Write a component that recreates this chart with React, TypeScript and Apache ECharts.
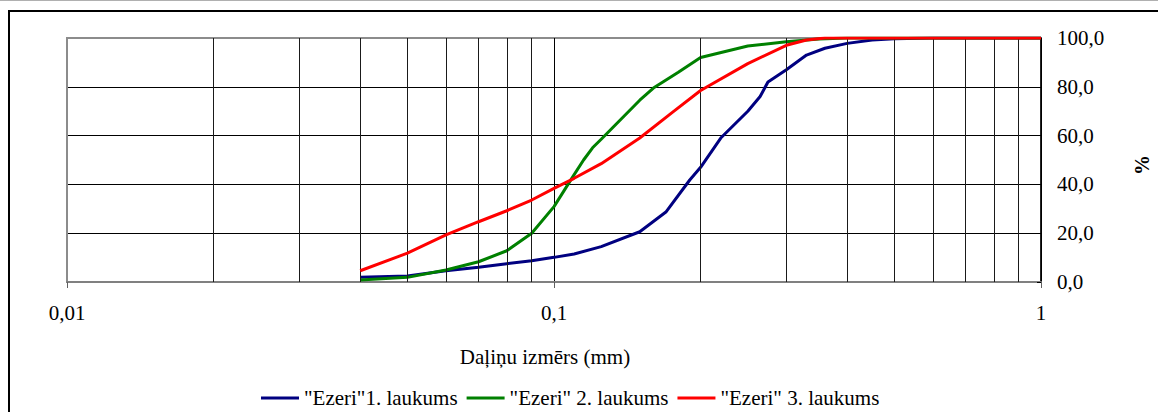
import React, { useEffect, useRef } from "react";
import * as echarts from "echarts";

// Particle size (mm) and cumulative % for each field
const x1 = [0.04, 0.05, 0.06, 0.07, 0.08, 0.09, 0.1, 0.11, 0.125, 0.15, 0.17, 0.19, 0.2, 0.22, 0.25, 0.265, 0.275, 0.3, 0.33, 0.36, 0.4, 0.45, 0.5, 0.6, 0.8, 1];
const y1 = [1.9, 2.5, 4.6, 6.0, 7.5, 8.7, 10.1, 11.5, 14.5, 20.6, 28.8, 41.8, 47.0, 59.0, 70.0, 76.0, 82.0, 87.0, 93.0, 95.8, 97.8, 99.2, 99.7, 100, 100, 100];

const x2 = [0.04, 0.05, 0.06, 0.07, 0.08, 0.09, 0.1, 0.11, 0.115, 0.12, 0.125, 0.15, 0.16, 0.18, 0.2, 0.25, 0.3, 0.35, 0.4, 0.5, 1];
const y2 = [0.8, 1.9, 4.9, 8.3, 12.8, 20.0, 30.9, 44.0, 50.0, 55.0, 58.5, 74.5, 79.5, 86.0, 92.0, 96.7, 98.5, 99.6, 100, 100, 100];

const x3 = [0.04, 0.05, 0.06, 0.07, 0.08, 0.09, 0.1, 0.11, 0.125, 0.15, 0.175, 0.2, 0.25, 0.3, 0.33, 0.36, 0.4, 0.5, 1];
const y3 = [4.6, 11.8, 19.3, 24.7, 29.2, 33.6, 38.4, 42.5, 48.5, 59.0, 69.5, 78.5, 89.5, 97.0, 99.2, 100, 100, 100, 100];

const seriesNames = ['"Ezeri"1. laukums', '"Ezeri" 2. laukums', '"Ezeri" 3. laukums'];
const seriesColors = ["#000080", "#008000", "#FF0000"];

const xTickLabels = ["0,01", "0,1", "1"];
const minorGridX = [0.02, 0.03, 0.04, 0.05, 0.06, 0.07, 0.08, 0.09, 0.2, 0.3, 0.4, 0.5, 0.6, 0.7, 0.8, 0.9];

const xName = "Daļiņu izmērs (mm)";
const yName = "%";

const FONT = "Liberation Serif";

function pairs(xs: number[], ys: number[]) {
  return xs.map((x, i) => [x, ys[i]]);
}

export default function App() {
  const ref = useRef<HTMLDivElement>(null);

  useEffect(() => {
    if (!ref.current) return;
    const chart = echarts.init(ref.current, undefined, { renderer: "svg" });
    const lineData = [pairs(x1, y1), pairs(x2, y2), pairs(x3, y3)];

    chart.setOption({
      animation: false,
      backgroundColor: "#fff",
      textStyle: { fontFamily: FONT, color: "#000" },
      graphic: [
        {
          type: "line",
          shape: { x1: 0, y1: 0.5, x2: 1158, y2: 0.5 },
          style: { stroke: "#b0b0b0", lineWidth: 1 },
          silent: true,
        },
        {
          type: "rect",
          shape: { x: 9, y: 11, width: 1300, height: 600 },
          style: { fill: "none", stroke: "#000", lineWidth: 2 },
          silent: true,
        },
        {
          type: "text",
          x: 1142,
          y: 165,
          rotation: Math.PI / 2,
          style: {
            text: yName,
            fontFamily: FONT,
            fontSize: 20,
            fontWeight: "bold",
            fill: "#000",
            align: "center",
            verticalAlign: "middle",
          },
          silent: true,
        },
      ],
      grid: {
        left: 67,
        top: 38,
        right: 117,
        bottom: 130,
        show: true,
        borderColor: "#8c8c8c",
        borderWidth: 2,
        containLabel: false,
        outerBoundsMode: "none",
      },
      legend: {
        data: seriesNames,
        left: 256,
        top: 381,
        orient: "horizontal",
        icon: "rect",
        itemWidth: 38,
        itemHeight: 3,
        itemGap: 9,
        textStyle: { fontFamily: FONT, fontSize: 21, color: "#000", lineHeight: 24 },
      },
      xAxis: {
        type: "log",
        logBase: 10,
        min: 0.01,
        max: 1,
        name: xName,
        nameLocation: "middle",
        nameGap: 64,
        nameTextStyle: { fontFamily: FONT, fontSize: 21, color: "#000", padding: [0, 18, 0, 0] },
        axisLine: { show: true, lineStyle: { color: "#808080", width: 2 } },
        axisTick: { show: true, length: 6, lineStyle: { color: "#606060", width: 1 } },
        axisLabel: {
          margin: 20,
          fontFamily: FONT,
          fontSize: 21,
          color: "#000",
          formatter: (v: number) => xTickLabels[Math.round(Math.log10(v)) + 2] ?? String(v),
        },
        splitLine: { show: true, lineStyle: { color: ["#8c8c8c", "#000", "#000"], width: 1 } },
      },
      yAxis: {
        type: "value",
        position: "right",
        min: 0,
        max: 100,
        interval: 20,
        axisLine: { show: true, lineStyle: { color: "#000", width: 1.5 } },
        axisTick: { show: true, inside: true, length: 4, lineStyle: { color: "#000" } },
        axisLabel: {
          margin: 16,
          fontFamily: FONT,
          fontSize: 21,
          color: "#000",
          formatter: (v: number) => v.toFixed(1).replace(".", ","),
        },
        splitLine: {
          show: true,
          lineStyle: { color: ["#808080", "#000", "#000", "#000", "#000", "#8c8c8c"], width: 1 },
        },
      },
      series: [
        {
          name: "__grid",
          type: "line",
          data: [],
          silent: true,
          markLine: {
            silent: true,
            symbol: ["none", "none"],
            label: { show: false },
            lineStyle: { color: "#1a1a1a", width: 1, type: "solid" },
            data: minorGridX.map((v) => ({ xAxis: v })),
          },
        },
        ...seriesNames.map((name, i) => ({
          name,
          type: "line",
          data: lineData[i],
          symbol: "none",
          smooth: false,
          color: seriesColors[i],
          lineStyle: { color: seriesColors[i], width: 3 },
          itemStyle: { color: seriesColors[i] },
          z: 3 + i,
        })),
      ],
    });

    return () => chart.dispose();
  }, []);

  return (
    <div
      ref={ref}
      style={{ position: "fixed", left: 0, top: 0, width: 1158, height: 412, background: "#fff" }}
    />
  );
}
